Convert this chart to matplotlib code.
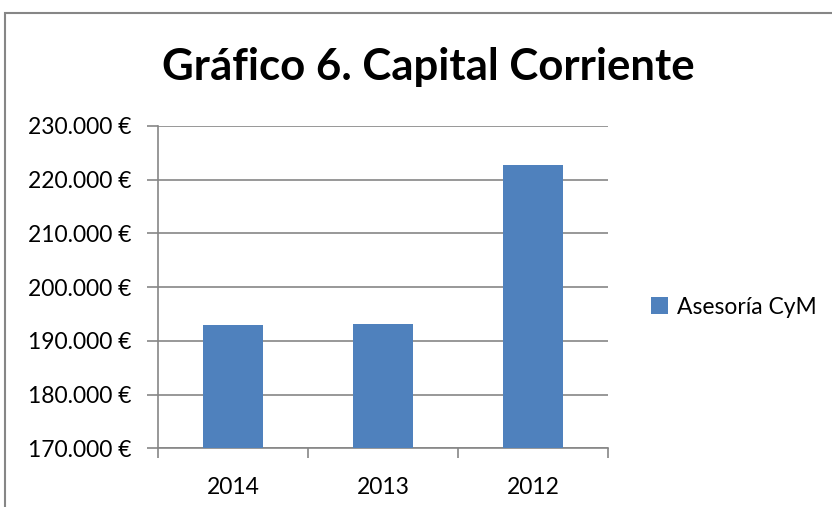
import matplotlib.pyplot as plt
import matplotlib.patches as mpatches
from matplotlib.ticker import FuncFormatter

# datos del gráfico
years = ["2014", "2013", "2012"]
capital = [192900, 193100, 222700]
serie = "Asesoría CyM"
titulo = "Gráfico 6. Capital Corriente"

plt.rcParams['font.family'] = ['Lato', 'DejaVu Sans']

fig = plt.figure(figsize=(8.32, 5.07), dpi=100)
# marco exterior del gráfico
fig.patches.append(mpatches.Rectangle((5 / 832, -0.1), 1.1, (507 - 13) / 507 + 0.1,
                                      transform=fig.transFigure, fill=False,
                                      edgecolor='#868686', linewidth=1.5))

ax = fig.add_axes([158 / 832, (507 - 448.3) / 507, 450 / 832, 322.3 / 507])
x = range(len(years))
ax.bar(x, capital, width=0.4, color='#4f81bd', label=serie, zorder=3)

ax.set_xlim(-0.5, len(years) - 0.5)
ax.set_ylim(170000, 230000)
ax.set_yticks(range(170000, 230001, 10000))
ax.yaxis.set_major_formatter(FuncFormatter(lambda v, p: "{:,.0f} €".format(v).replace(",", ".")))
ax.set_xticks(list(x))
ax.set_xticklabels(years)
ax.set_xticks([i - 0.5 for i in range(len(years) + 1)], minor=True)

ax.grid(axis='y', color='#868686', linewidth=1.2, zorder=0)
for s in ['top', 'right']:
    ax.spines[s].set_visible(False)
for s in ['left', 'bottom']:
    ax.spines[s].set_color('#868686')
    ax.spines[s].set_linewidth(1.2)

ax.tick_params(axis='y', length=8, color='#868686', width=1.2, labelsize=16.5, pad=11)
ax.tick_params(axis='x', which='major', length=0, labelsize=16.5, pad=21)
ax.tick_params(axis='x', which='minor', length=7, color='#868686', width=1.2)

fig.text(428 / 832, 1 - 67 / 507, titulo, ha='center', va='center',
         fontsize=31.5, fontweight='bold')

ax.legend(loc='center left', bbox_to_anchor=(651 / 832, 1 - 307 / 507),
          bbox_transform=fig.transFigure, frameon=False, fontsize=16.5,
          handlelength=0.75, handleheight=0.75, handletextpad=0.4,
          borderaxespad=0, borderpad=0)

fig.savefig("out.png", dpi=100)
